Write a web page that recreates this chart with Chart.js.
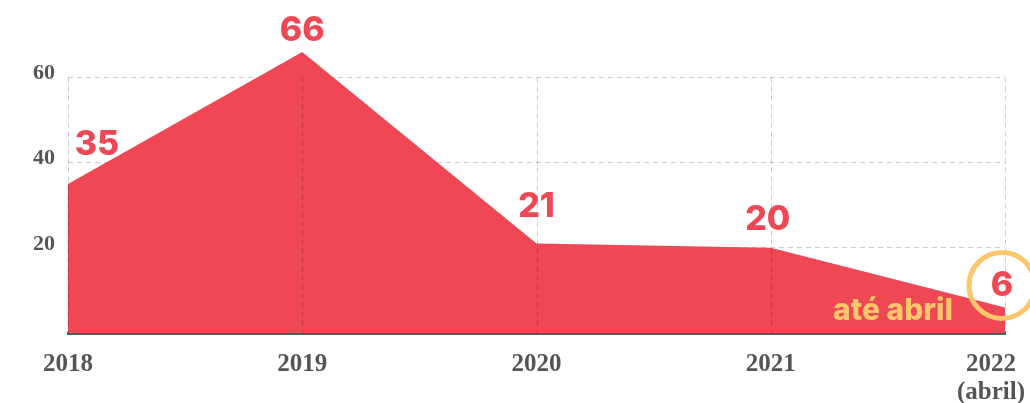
<!DOCTYPE html>
<html>
<head>
<meta charset="utf-8">
<script src="https://cdn.jsdelivr.net/npm/chart.js@4/dist/chart.umd.min.js"></script>
<style>
  html, body { margin: 0; padding: 0; background: #fff; }
  #wrap { width: 1030px; height: 403px; }
</style>
</head>
<body>
<div id="wrap"><canvas id="chart"></canvas></div>
<script>
/* data */
let years = ['2018', '2019', '2020', '2021', ['2022', '(abril)']];
let cases = [35, 66, 21, 20, 6];
let yTicks = [20, 40, 60];
let noteText = 'até abril';

/* styles */
let red = '#ef4754';
let yellow = '#fdc66b';
let gridColor = 'rgba(0,0,0,0.2)';
let labelShift = [[29, -39], [0, -21], [0, -37], [-3, -28], [-3, -22]];

/* vertical dashed lines, from the top tick down, over the fill */
let vLines = {
  id: 'vLines',
  beforeDraw(chart) {
    // pull the last x label back inside the canvas
    let items = chart.scales.x.getLabelItems(chart.chartArea);
    let lastItem = items[items.length - 1];
    if (lastItem && !lastItem._moved) {
      lastItem.options.translation[0] -= 14;
      lastItem._moved = true;
    }
  },
  afterDatasetsDraw(chart) {
    let ctx = chart.ctx;
    let xs = chart.scales.x, ys = chart.scales.y;
    let top = ys.getPixelForValue(yTicks[yTicks.length - 1]);
    ctx.save();
    ctx.setLineDash([5, 4]);
    ctx.strokeStyle = gridColor;
    ctx.lineWidth = 1;
    years.forEach((y, i) => {
      let px = Math.round(xs.getPixelForValue(i)) + 0.5;
      ctx.beginPath();
      ctx.moveTo(px, top);
      ctx.lineTo(px, chart.chartArea.bottom);
      ctx.stroke();
    });
    ctx.restore();
  }
};

/* value labels, circle and note */
let valueLabels = {
  id: 'valueLabels',
  afterDraw(chart) {
    let ctx = chart.ctx;
    let pts = chart.getDatasetMeta(0).data;
    let last = pts[pts.length - 1];
    ctx.save();
    ctx.beginPath();
    ctx.arc(last.x - 3, last.y - 22, 33, 0, Math.PI * 2);
    ctx.strokeStyle = yellow;
    ctx.lineWidth = 5;
    ctx.stroke();

    ctx.font = '800 34px Inter';
    ctx.fillStyle = red;
    ctx.textAlign = 'center';
    ctx.textBaseline = 'middle';
    pts.forEach((p, i) => {
      ctx.fillText(String(cases[i]), p.x + labelShift[i][0], p.y + labelShift[i][1]);
    });

    ctx.font = '800 30px Inter';
    ctx.fillStyle = yellow;
    ctx.textAlign = 'right';
    ctx.textBaseline = 'alphabetic';
    ctx.fillText(noteText, last.x - 52, chart.chartArea.bottom - 13);
    ctx.restore();
  }
};

let ctx = document.getElementById('chart').getContext('2d');
let chart = new Chart(ctx, {
  type: 'line',
  data: {
    labels: years,
    datasets: [{
      data: cases,
      fill: 'origin',
      backgroundColor: red,
      borderWidth: 0,
      pointRadius: 0,
      tension: 0,
      clip: false
    }]
  },
  options: {
    responsive: true,
    maintainAspectRatio: false,
    animation: false,
    devicePixelRatio: 1,
    layout: { padding: { top: 35, right: 25, left: 0, bottom: 0 } },
    plugins: {
      legend: { display: false },
      tooltip: { enabled: false }
    },
    scales: {
      x: {
        z: 1,
        grid: { display: false, drawTicks: false },
        border: { display: true, color: '#58595b', width: 3 },
        ticks: {
          color: '#555',
          padding: 18,
          maxRotation: 0,
          font: { family: '"Liberation Serif", serif', weight: 'bold', size: 25, lineHeight: 1.12 }
        },
        afterFit(scale) {
          scale.height = 70;
          scale.paddingLeft = 0;
          scale.paddingRight = 0;
        }
      },
      y: {
        z: 1,
        min: 0,
        max: 70,
        afterBuildTicks(scale) { scale.ticks = yTicks.map(v => ({ value: v })); },
        grid: { color: gridColor, lineWidth: 1, drawTicks: false },
        border: { display: false, dash: [5, 4] },
        ticks: {
          color: '#555',
          padding: 13,
          labelOffset: -4,
          font: { family: '"Liberation Serif", serif', weight: 'bold', size: 22 }
        },
        afterFit(scale) { scale.width = 68; }
      }
    }
  },
  plugins: [vLines, valueLabels]
});
</script>
</body>
</html>
